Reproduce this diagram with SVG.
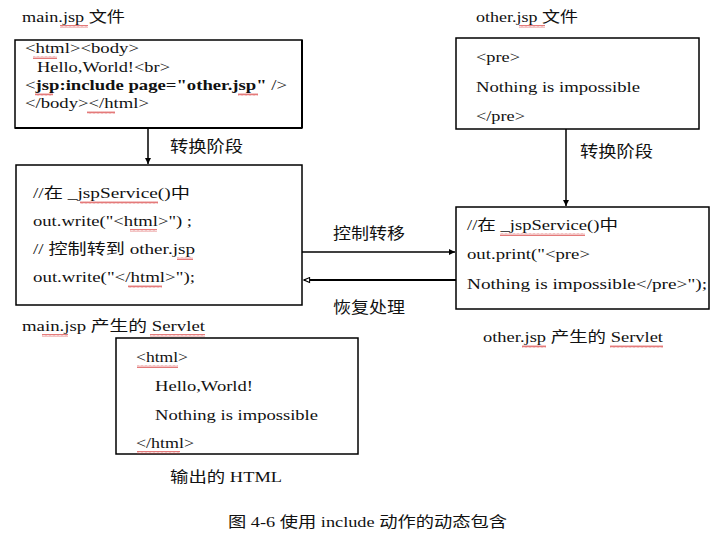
<svg xmlns="http://www.w3.org/2000/svg" width="720" height="540" viewBox="0 0 720 540">
<style>
.t{font-family:"Liberation Serif","Noto Sans CJK SC",serif;font-size:15px;fill:#111}
.c{font-family:"Noto Sans CJK SC","Liberation Sans",sans-serif;font-size:16px;fill:#111}
.b{font-weight:bold}
.box{fill:#fff;stroke:#000;stroke-width:1.5}
.ln{fill:none;stroke:#000;stroke-width:1.5}
.sq{fill:url(#wave)}
</style>
<defs>
<pattern id="wave" width="4" height="3" patternUnits="userSpaceOnUse">
<path d="M0,2.5 L1,0.5 L2,2.5 L3,0.5 L4,2.5" fill="none" stroke="#d84040" stroke-width="0.7"/>
</pattern>
<marker id="af" viewBox="0 0 10 10" refX="10" refY="5" markerWidth="6" markerHeight="6" orient="auto" markerUnits="userSpaceOnUse">
<path d="M0,0 L10,5 L0,10 Z" fill="#000"/>
</marker>
<marker id="ao" viewBox="0 0 10 10" refX="9" refY="5" markerWidth="8" markerHeight="7" orient="auto" markerUnits="userSpaceOnUse">
<path d="M1,1.5 L9,5 L1,8.5 Z" fill="#fff" stroke="#000" stroke-width="1.5"/>
</marker>
</defs>
<rect width="720" height="540" fill="#fff"/>

<g id="connectors">
<line class="ln" x1="148" y1="128" x2="148" y2="164" marker-end="url(#af)"/>
<line class="ln" x1="566" y1="129" x2="566" y2="206" marker-end="url(#af)"/>
<line class="ln" x1="302" y1="252" x2="455" y2="252" marker-end="url(#af)"/>
<line x1="456" y1="280" x2="304" y2="280" stroke="#000" stroke-width="2" marker-end="url(#ao)"/>
<text class="c" x="170" y="152" textLength="73" lengthAdjust="spacingAndGlyphs">转换阶段</text>
<text class="c" x="580" y="157" textLength="73" lengthAdjust="spacingAndGlyphs">转换阶段</text>
<text class="c" x="333" y="239" textLength="72" lengthAdjust="spacingAndGlyphs">控制转移</text>
<text class="c" x="333" y="313" textLength="72" lengthAdjust="spacingAndGlyphs">恢复处理</text>
</g>

<g id="main-jsp">
<text class="t" x="22" y="22" textLength="103" lengthAdjust="spacingAndGlyphs">main.jsp 文件</text>
<rect class="sq" x="60" y="25" width="28" height="3"/>
<rect class="box" x="15" y="40" width="287" height="88"/>
<line x1="302" y1="40" x2="302" y2="128" stroke="#000" stroke-width="2"/>
<line x1="15" y1="128" x2="302" y2="128" stroke="#000" stroke-width="2"/>
<text class="t" x="25" y="53" textLength="114" lengthAdjust="spacingAndGlyphs">&lt;html&gt;&lt;body&gt;</text>
<text class="t" x="37" y="72" textLength="133" lengthAdjust="spacingAndGlyphs">Hello,World!&lt;br&gt;</text>
<text class="t" x="25" y="90" textLength="262" lengthAdjust="spacingAndGlyphs">&lt;<tspan class="b">jsp:include page="other.jsp"</tspan> /&gt;</text>
<text class="t" x="25" y="108" textLength="124" lengthAdjust="spacingAndGlyphs">&lt;/body&gt;&lt;/html&gt;</text>
<rect class="sq" x="33" y="56" width="24" height="3"/>
<rect class="sq" x="35" y="93" width="18" height="3"/>
<rect class="sq" x="238" y="93" width="20" height="3"/>
<rect class="sq" x="87" y="111" width="28" height="3"/>
</g>

<g id="other-jsp">
<text class="t" x="476" y="22" textLength="102" lengthAdjust="spacingAndGlyphs">other.jsp 文件</text>
<rect class="sq" x="519" y="25" width="26" height="3"/>
<rect class="box" x="456" y="38" width="243" height="91"/>
<text class="t" x="476" y="62" textLength="44" lengthAdjust="spacingAndGlyphs">&lt;pre&gt;</text>
<text class="t" x="476" y="92" textLength="164" lengthAdjust="spacingAndGlyphs">Nothing is impossible</text>
<text class="t" x="476" y="121" textLength="49" lengthAdjust="spacingAndGlyphs">&lt;/pre&gt;</text>
</g>

<g id="main-servlet">
<rect class="box" x="16" y="165" width="286" height="140"/>
<text class="t" x="33" y="198" textLength="157" lengthAdjust="spacingAndGlyphs">//在  _jspService()中</text>
<text class="t" x="33" y="226" textLength="159" lengthAdjust="spacingAndGlyphs">out.write("&lt;html&gt;") ;</text>
<text class="t" x="33" y="254" textLength="162" lengthAdjust="spacingAndGlyphs">//  控制转到 other.jsp</text>
<text class="t" x="33" y="282" textLength="162" lengthAdjust="spacingAndGlyphs">out.write("&lt;/html&gt;");</text>
<rect class="sq" x="80" y="201" width="78" height="3"/>
<rect class="sq" x="130" y="229" width="27" height="3"/>
<rect class="sq" x="177" y="257" width="16" height="3"/>
<rect class="sq" x="128" y="285" width="34" height="3"/>
<text class="t" x="22" y="331" textLength="183" lengthAdjust="spacingAndGlyphs">main.jsp 产生的 Servlet</text>
<rect class="sq" x="42" y="334" width="26" height="3"/>
<rect class="sq" x="150" y="334" width="55" height="3"/>
</g>

<g id="other-servlet">
<rect class="box" x="456" y="207" width="253" height="102"/>
<text class="t" x="467" y="230" textLength="151" lengthAdjust="spacingAndGlyphs">//在   _jspService()中</text>
<text class="t" x="467" y="259" textLength="123" lengthAdjust="spacingAndGlyphs">out.print("&lt;pre&gt;</text>
<text class="t" x="467" y="289" textLength="240" lengthAdjust="spacingAndGlyphs">Nothing is impossible&lt;/pre&gt;");</text>
<rect class="sq" x="500" y="233" width="85" height="3"/>
<text class="t" x="483" y="342" textLength="180" lengthAdjust="spacingAndGlyphs">other.jsp 产生的 Servlet</text>
<rect class="sq" x="522" y="345" width="24" height="3"/>
<rect class="sq" x="610" y="345" width="53" height="3"/>
</g>

<g id="html-output">
<rect class="box" x="116" y="338" width="242" height="116"/>
<text class="t" x="136" y="362" textLength="52" lengthAdjust="spacingAndGlyphs">&lt;html&gt;</text>
<text class="t" x="155" y="391" textLength="98" lengthAdjust="spacingAndGlyphs">Hello,World!</text>
<text class="t" x="155" y="420" textLength="163" lengthAdjust="spacingAndGlyphs">Nothing is impossible</text>
<text class="t" x="136" y="448" textLength="58" lengthAdjust="spacingAndGlyphs">&lt;/html&gt;</text>
<rect class="sq" x="137" y="365" width="41" height="3"/>
<rect class="sq" x="137" y="451" width="43" height="3"/>
<text class="t" x="170" y="482" textLength="112" lengthAdjust="spacingAndGlyphs">输出的 HTML</text>
</g>

<g id="caption">
<text class="t" x="228" y="527" textLength="279" lengthAdjust="spacingAndGlyphs">图 4-6 使用 include 动作的动态包含</text>
</g>
</svg>
